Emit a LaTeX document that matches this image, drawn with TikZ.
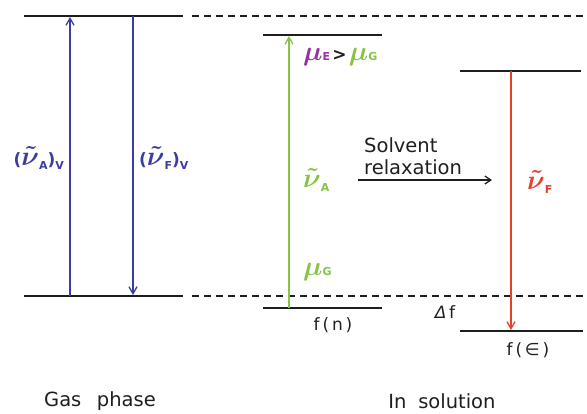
\documentclass[tikz,border=0pt]{standalone}
\usepackage{fontspec}
\setmainfont{DejaVu Sans}
\usepackage{graphicx}
\usetikzlibrary{arrows.meta}
\definecolor{cblue}{RGB}{60,60,165}
\definecolor{cgreen}{RGB}{135,195,70}
\definecolor{cpurple}{RGB}{150,50,165}
\definecolor{cred}{RGB}{225,65,45}
\definecolor{cdark}{RGB}{30,30,30}
\newcommand\subsc[1]{{\fontsize{11}{12}\selectfont\bfseries #1}}
\newcommand\nusym[1]{\scalebox{1.9}{\boldmath$\tilde{\nu}$}\raisebox{-0.3em}{\subsc{#1}}}
\newcommand\musym[1]{\scalebox{1.9}{\boldmath$\mu$}\subsc{#1}}
\newcommand\paren[1]{{\fontsize{17}{19}\selectfont\bfseries #1}}
\begin{document}
\begin{tikzpicture}[x=1pt,y=-1pt,
  level/.style={draw=cdark,line width=1.8pt},
  dashlevel/.style={draw=cdark,line width=1.3pt,dash pattern=on 7pt off 5pt},
  trans/.style={line width=1.3pt,-{Straight Barb[length=7pt,width=8pt]}},
  lbl/.style={font=\fontsize{14}{16}\selectfont,inner sep=0pt},
  big/.style={font=\fontsize{19.5}{22}\selectfont,inner sep=0pt},
  small/.style={font=\fontsize{17}{19}\selectfont,inner sep=0pt}]
\useasboundingbox (0,0) rectangle (587,413);
% gas phase levels
\coordinate (g1l) at (24,16); \coordinate (g1r) at (183,16);
\coordinate (g0l) at (24,296); \coordinate (g0r) at (183,296);
\coordinate (d1l) at (192,16); \coordinate (d1r) at (587,16);
\coordinate (d0l) at (192,296); \coordinate (d0r) at (587,296);
\draw[level] (g1l) -- (g1r);
\draw[level] (g0l) -- (g0r);
\draw[dashlevel] (d1l) -- (d1r);
\draw[dashlevel] (d0l) -- (d0r);
% gas arrows
\coordinate (ga0) at (70,296); \coordinate (ga1) at (70,17);
\coordinate (gf1) at (133,16); \coordinate (gf0) at (133,295);
\draw[trans,cblue] (ga0) -- (ga1);
\draw[trans,cblue] (gf1) -- (gf0);
\node[lbl,text=cblue,anchor=east] (nuAv) at (64,158) {\paren{(}\nusym{A}\paren{)}\raisebox{-0.3em}{\subsc{V}}};
\node[lbl,text=cblue,anchor=west] (nuFv) at (139,158) {\paren{(}\nusym{F}\paren{)}\raisebox{-0.3em}{\subsc{V}}};
% solution, normal
\coordinate (s1l) at (263,35); \coordinate (s1r) at (382,35);
\coordinate (s0l) at (263,308); \coordinate (s0r) at (382,308);
\draw[level] (s1l) -- (s1r);
\draw[level] (s0l) -- (s0r);
\coordinate (sa0) at (289,308); \coordinate (sa1) at (289,36);
\draw[trans,cgreen] (sa0) -- (sa1);
\node[lbl,anchor=west] (mu) at (303,57) {\textcolor{cpurple}{\musym{E}}\,\textcolor{cdark}{\paren{>}}\,\textcolor{cgreen}{\musym{G}}};
\node[lbl,text=cgreen,anchor=west] (nuA) at (303,180) {\nusym{A}};
\node[lbl,anchor=west,text=cgreen] (muG) at (303,272) {\musym{G}};
\node[small,text=cdark] (fn) at (333,325) {f\,(\,n\,)};
% relaxation
\node[big,text=cdark,align=left,anchor=south west] (relax) at (364,175) {Solvent\\relaxation};
\coordinate (r0) at (358,180); \coordinate (r1) at (492,180);
\draw[line width=1.3pt,cdark,-{Straight Barb[length=6pt,width=8pt]}] (r0) -- (r1);
% solution, relaxed
\coordinate (t1l) at (460,71); \coordinate (t1r) at (581,71);
\coordinate (t0l) at (460,331); \coordinate (t0r) at (583,331);
\draw[level] (t1l) -- (t1r);
\draw[level] (t0l) -- (t0r);
\coordinate (rf1) at (511,71); \coordinate (rf0) at (511,330);
\draw[trans,cred] (rf1) -- (rf0);
\node[lbl,text=cred,anchor=west] (nuF) at (527,182) {\nusym{F}};
\node[small,text=cdark] (df) at (445,312) {\textit{Δ}\,f};
\node[small,text=cdark] (fe) at (528,350) {f\,(\,∈\,)};
% captions
\node[big,text=cdark] (gas) at (100,401) {Gas\hspace{0.8em}phase};
\node[big,text=cdark] (sol) at (442,401) {In\hspace{0.6em}solution};
\end{tikzpicture}
\end{document}
